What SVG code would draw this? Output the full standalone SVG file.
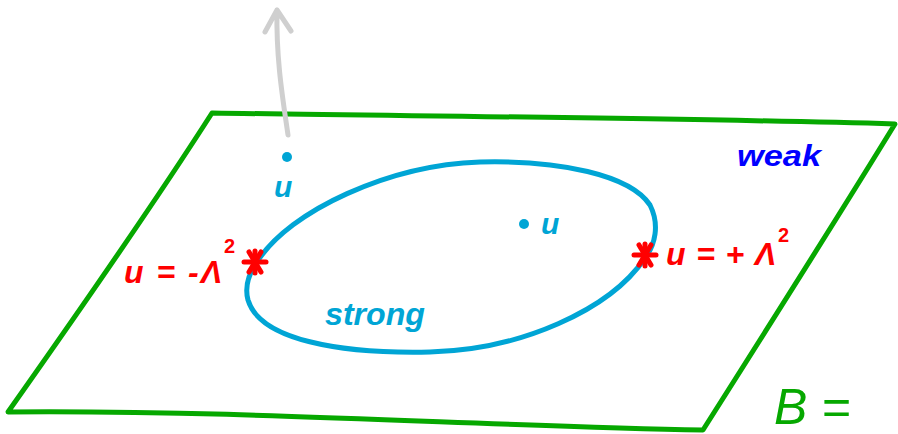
<svg xmlns="http://www.w3.org/2000/svg" width="898" height="434" viewBox="0 0 898 434">
<style>
.green{fill:none;stroke:#06a800;stroke-width:5;stroke-linejoin:round;stroke-linecap:round}
.blue{fill:none;stroke:#00a5d5;stroke-width:5;stroke-linecap:round}
.gray{fill:none;stroke:#cfcfcf;stroke-width:5;stroke-linecap:round;stroke-linejoin:round}
.star{stroke:#ff0000;stroke-width:5;stroke-linecap:round}
.t{font-family:"Liberation Sans","DejaVu Sans",sans-serif;font-weight:bold;font-style:italic}
.sup{font-family:"Liberation Sans","DejaVu Sans",sans-serif;font-weight:bold}
.red{fill:#ff0000}
.cy{fill:#00a5d5}
</style>
<rect width="898" height="434" fill="#ffffff"/>
<g id="plane">
<path class="green" d="M212,113 C400,116 700,118 895,124 C830,230 760,340 703,430 C480,426 250,410 8,412 C80,310 150,210 212,113 Z"/>
</g>
<g id="strong-region">
<path class="blue" d="M257,262 C290,210 390,165 480,162 C560,160 630,175 650,205 C660,225 655,245 645,258 C610,310 520,350 430,352 C340,354 260,340 248,300 C244,285 250,272 257,262 Z"/>
<text class="t cy" x="325" y="325" font-size="32" textLength="100" lengthAdjust="spacingAndGlyphs">strong</text>
</g>
<g id="connectors">
<path class="gray" d="M288,135 C283,100 276,60 277,10 M265,32 L277,10 L291,31"/>
</g>
<g id="point-outside">
<circle cx="287" cy="157" r="5" fill="#00a5d5"/>
<text class="t cy" x="274" y="197" font-size="30">u</text>
</g>
<g id="point-inside">
<circle cx="524" cy="224" r="5" fill="#00a5d5"/>
<text class="t cy" x="541" y="234" font-size="30">u</text>
</g>
<g id="weak-label">
<text class="t" fill="#0000ff" x="737" y="166" font-size="30" textLength="84" lengthAdjust="spacingAndGlyphs">weak</text>
</g>
<g id="singularity-left">
<g class="star" transform="translate(255,262)">
<line x1="-11" y1="0" x2="11" y2="0"/><line x1="-6" y1="-10" x2="6" y2="10"/><line x1="6" y1="-10" x2="-6" y2="10"/><line x1="0" y1="-11" x2="0" y2="11"/>
</g>
<text class="t red" x="124" y="283" font-size="32" textLength="98" lengthAdjust="spacing">u = -Λ</text>
<text class="sup red" x="224" y="253" font-size="20">2</text>
</g>
<g id="singularity-right">
<g class="star" transform="translate(645,255)">
<line x1="-11" y1="0" x2="11" y2="0"/><line x1="-6" y1="-10" x2="6" y2="10"/><line x1="6" y1="-10" x2="-6" y2="10"/><line x1="0" y1="-11" x2="0" y2="11"/>
</g>
<text class="t red" x="666" y="265" font-size="32" textLength="110" lengthAdjust="spacing">u = + Λ</text>
<text class="sup red" x="778" y="242" font-size="20">2</text>
</g>
<g id="base-label">
<text font-family="Liberation Sans,DejaVu Sans,sans-serif" fill="#06a800" x="774" y="424" font-size="50" font-style="italic">B =</text>
</g>
</svg>
